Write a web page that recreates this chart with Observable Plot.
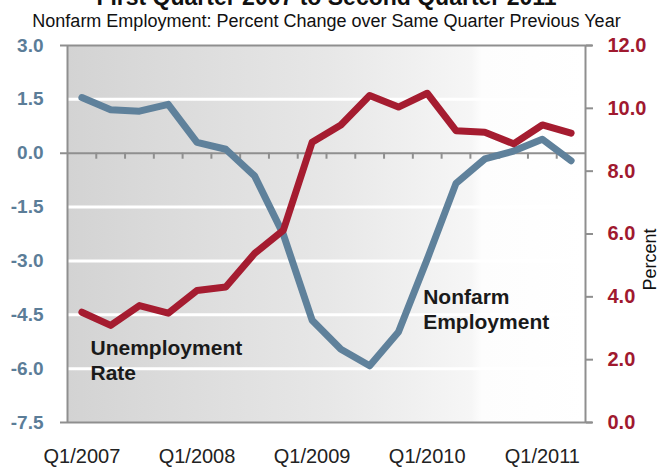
<!DOCTYPE html>
<html><head><meta charset="utf-8">
<script src="https://cdn.jsdelivr.net/npm/d3@7"></script>
<script src="https://cdn.jsdelivr.net/npm/@observablehq/plot@0.6"></script>
<style>
body{margin:0;background:#fff;font-family:"Liberation Sans",Arial,sans-serif;}
#wrap{position:relative;width:667px;height:467px;overflow:hidden;}
#head{position:relative;height:32px;}
.title{position:absolute;left:-7px;width:667px;text-align:center;white-space:nowrap;color:#111;}
#t1{top:-14.5px;font-size:23px;line-height:23px;font-weight:bold;}
#t2{top:11.8px;font-size:18px;line-height:18px;}
</style></head>
<body><div id="wrap"><div id="head"><div class="title" id="t1">First Quarter 2007 to Second Quarter 2011</div><div class="title" id="t2">Nonfarm Employment: Percent Change over Same Quarter Previous Year</div></div><div id="chart"></div></div>
<script>
const quarters = ["Q1/2007","Q2/2007","Q3/2007","Q4/2007","Q1/2008","Q2/2008","Q3/2008","Q4/2008",
  "Q1/2009","Q2/2009","Q3/2009","Q4/2009","Q1/2010","Q2/2010","Q3/2010","Q4/2010","Q1/2011","Q2/2011"];
// Nonfarm employment, % change over same quarter previous year (left axis)
const nonfarm = [1.55, 1.21, 1.17, 1.36, 0.30, 0.11, -0.63, -2.26, -4.65, -5.46, -5.92, -4.98, -2.95, -0.84, -0.16, 0.06, 0.39, -0.21];
// Unemployment rate, percent (right axis)
const unemployment = [3.51, 3.09, 3.72, 3.48, 4.20, 4.31, 5.38, 6.12, 8.92, 9.47, 10.41, 10.04, 10.48, 9.29, 9.24, 8.87, 9.47, 9.21];
const leftTicks = [3, 1.5, 0, -1.5, -3, -4.5, -6, -7.5];
const rightTicks = [0, 2, 4, 6, 8, 10, 12];
const xTickLabels = ["Q1/2007","Q1/2008","Q1/2009","Q1/2010","Q1/2011"];
const seriesLabels = ["Unemployment\nRate", "Nonfarm\nEmployment"];

const toLeft = d3.scaleLinear([0, 12], [-7.5, 3]);
const idx = quarters.map((q, i) => i);
const nfData = nonfarm.map((v, i) => ({i, v}));
const urData = unemployment.map((v, i) => ({i, v: toLeft(v)}));
const boundaries = idx.slice(1).map(i => i - 0.5);
const xTicks = xTickLabels.map(l => quarters.indexOf(l));
const annotations = [
  {text: seriesLabels[0], x: 0.30, y: -5.75},
  {text: seriesLabels[1], x: 11.86, y: -4.32}
];
const gray = "#8f8f8f";

const plot = Plot.plot({
  width: 667, height: 435,
  marginTop: 13, marginBottom: 45, marginLeft: 67, marginRight: 82,
  x: {domain: [-0.5, 17.5], axis: null},
  y: {domain: [-7.5, 3], axis: null},
  style: {fontFamily: '"Liberation Sans", Arial, sans-serif', background: "transparent", overflow: "visible"},
  marks: [
    Plot.frame({fill: "url(#bggrad)", stroke: "none"}),
    Plot.ruleY(leftTicks.filter(t => t !== 0 && t !== 3 && t !== -7.5), {stroke: "#fff", strokeWidth: 3, insetLeft: -7}),
    Plot.ruleY([0], {stroke: gray, strokeWidth: 2, insetLeft: -7}),
    Plot.ruleY([3, -7.5], {stroke: gray, strokeWidth: 2, insetLeft: -7, insetRight: -7}),
    Plot.ruleX([-0.5, 17.5], {stroke: gray, strokeWidth: 2}),
    Plot.ruleX(boundaries, {x: d => d, y1: 0, y2: 0, insetBottom: -6, stroke: gray, strokeWidth: 2}),
    Plot.line(nfData, {x: "i", y: "v", stroke: "#5f819b", strokeWidth: 7, strokeLinejoin: "round", strokeLinecap: "round"}),
    Plot.line(urData, {x: "i", y: "v", stroke: "#a51c30", strokeWidth: 7, strokeLinejoin: "round", strokeLinecap: "round"}),
    Plot.text(annotations, {x: "x", y: "y", text: "text", textAnchor: "start", lineHeight: 1.2, fontSize: 21, fontWeight: "bold", fill: "#1a1a1a"}),
    Plot.axisY(leftTicks, {anchor: "left", label: null, tickSize: 0, tickPadding: 24, tickFormat: d => d.toFixed(1), fill: "#5b7d98", fontSize: 19, fontWeight: "bold"}),
    Plot.axisY(rightTicks.map(toLeft), {anchor: "right", label: null, tickSize: 7, tickPadding: 15, stroke: gray, strokeWidth: 2, tickFormat: d => Math.abs(toLeft.invert(d)).toFixed(1), fill: "#a0192f", fontSize: 20, fontWeight: "bold"}),
    Plot.axisX(xTicks, {anchor: "bottom", label: null, tickSize: 0, tickPadding: 26, tickFormat: i => quarters[i], fontSize: 20, fill: "#222"}),
    Plot.text(["Percent"], {frameAnchor: "right", rotate: -90, dx: 65, dy: -5.5, fontSize: 18, fill: "#111"})
  ]
});
const defs = d3.select(plot).insert("defs", ":first-child");
const g = defs.append("linearGradient").attr("id", "bggrad").attr("x1", 0).attr("x2", 1).attr("y1", 0).attr("y2", 0);
[[0, "#d3d3d3"], [0.5, "#e7e7e7"], [0.78, "#f6f6f6"], [0.8, "#fdfdfd"], [1, "#ffffff"]].forEach(([o, c]) =>
  g.append("stop").attr("offset", o).attr("stop-color", c));
document.getElementById("chart").appendChild(plot);
</script>
</body></html>
